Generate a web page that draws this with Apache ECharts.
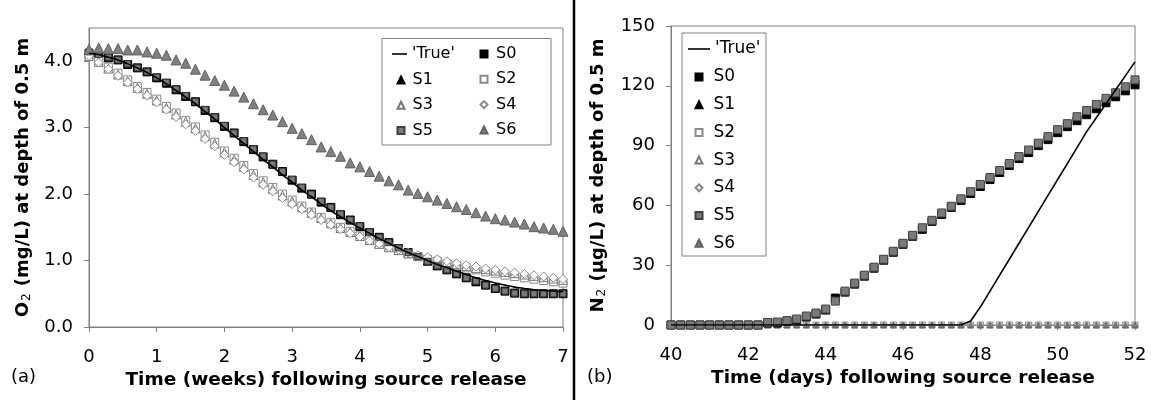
<!DOCTYPE html>
<html>
<head>
<meta charset="utf-8">
<script src="https://cdn.jsdelivr.net/npm/echarts@6/dist/echarts.min.js"></script>
<style>
  html, body { margin: 0; padding: 0; background: #ffffff; }
  #chart { width: 1151px; height: 400px; }
</style>
</head>
<body>
<div id="chart"></div>
<script>
// ---------- Panel (a): dissolved O2 at 0.5 m, sampled once per day ----------
const DAYS_A = [0,1,2,3,4,5,6,7,8,9,10,11,12,13,14,15,16,17,18,19,20,21,22,23,24,
                25,26,27,28,29,30,31,32,33,34,35,36,37,38,39,40,41,42,43,44,45,46,47,48,49];

const TRUE_A = [4.12,4.10,4.06,4.02,3.96,3.90,3.83,3.75,3.66,3.56,3.46,3.36,3.24,3.13,3.00,
                2.88,2.76,2.64,2.52,2.41,2.29,2.18,2.06,1.96,1.85,1.75,1.66,1.57,1.49,1.41,
                1.33,1.26,1.19,1.12,1.06,1.00,0.94,0.89,0.84,0.79,0.74,0.70,0.66,0.63,0.60,
                0.58,0.56,0.55,0.54,0.53];
const S0_A = [4.12,4.09,4.05,4.02,3.95,3.90,3.84,3.75,3.67,3.57,3.47,3.39,3.26,3.15,3.02,
              2.92,2.79,2.67,2.56,2.45,2.34,2.21,2.09,2.00,1.88,1.80,1.69,1.61,1.51,1.42,
              1.35,1.27,1.18,1.12,1.06,0.99,0.92,0.86,0.80,0.74,0.68,0.63,0.58,0.54,0.51,
              0.50,0.50,0.50,0.50,0.50];
const S1_A = [4.12,4.09,4.05,4.01,3.95,3.89,3.83,3.75,3.66,3.57,3.47,3.38,3.26,3.15,3.02,
              2.91,2.79,2.67,2.56,2.44,2.33,2.21,2.09,1.99,1.88,1.79,1.69,1.60,1.51,1.42,
              1.34,1.26,1.18,1.11,1.05,0.99,0.92,0.86,0.80,0.74,0.68,0.63,0.58,0.54,0.51,
              0.50,0.50,0.50,0.50,0.50];
const S2_A = [4.09,4.00,3.91,3.82,3.72,3.62,3.53,3.43,3.32,3.22,3.11,3.01,2.89,2.78,2.65,
              2.54,2.43,2.31,2.20,2.10,2.00,1.91,1.82,1.73,1.65,1.57,1.50,1.44,1.37,1.31,
              1.25,1.20,1.15,1.10,1.06,1.02,0.99,0.95,0.92,0.89,0.86,0.83,0.81,0.78,0.76,
              0.74,0.72,0.70,0.68,0.66];
const S3_A = [4.08,3.99,3.89,3.80,3.70,3.60,3.51,3.41,3.30,3.20,3.09,2.99,2.87,2.76,2.63,
              2.52,2.41,2.29,2.18,2.08,1.98,1.89,1.80,1.72,1.64,1.56,1.49,1.43,1.37,1.31,
              1.25,1.20,1.16,1.11,1.07,1.04,1.01,0.98,0.95,0.92,0.89,0.87,0.85,0.83,0.81,
              0.79,0.77,0.75,0.73,0.71];
const S4_A = [4.08,3.98,3.88,3.78,3.68,3.58,3.48,3.38,3.27,3.16,3.05,2.95,2.83,2.72,2.59,
              2.48,2.37,2.25,2.14,2.04,1.94,1.85,1.77,1.69,1.61,1.54,1.47,1.41,1.36,1.30,
              1.25,1.20,1.16,1.12,1.08,1.05,1.02,0.99,0.96,0.93,0.91,0.88,0.86,0.84,0.82,
              0.80,0.78,0.76,0.74,0.72];
const S5_A = [4.14,4.10,4.06,4.02,3.96,3.90,3.84,3.76,3.68,3.58,3.48,3.39,3.27,3.16,3.03,
              2.92,2.80,2.68,2.57,2.45,2.34,2.22,2.10,2.00,1.89,1.80,1.70,1.61,1.52,1.43,
              1.35,1.27,1.19,1.12,1.06,0.99,0.92,0.86,0.80,0.74,0.69,0.63,0.58,0.54,0.51,
              0.50,0.50,0.50,0.50,0.50];
const S6_A = [4.18,4.20,4.19,4.19,4.17,4.17,4.14,4.12,4.09,4.02,3.97,3.88,3.79,3.71,3.64,
              3.55,3.46,3.36,3.27,3.19,3.09,2.99,2.91,2.82,2.71,2.64,2.57,2.47,2.41,2.34,
              2.27,2.20,2.14,2.06,2.01,1.96,1.91,1.86,1.81,1.77,1.72,1.67,1.63,1.61,1.58,
              1.55,1.51,1.49,1.47,1.44];

const X_TICKS_A = [0,1,2,3,4,5,6,7];
const Y_TICKS_A = [0,1,2,3,4];

// ---------- Panel (b): N2 at 0.5 m, sampled every 6 hours ----------
const TIMES_B = [40,40.25,40.5,40.75,41,41.25,41.5,41.75,42,42.25,42.5,42.75,43,43.25,43.5,43.75,
                 44,44.25,44.5,44.75,45,45.25,45.5,45.75,46,46.25,46.5,46.75,47,47.25,47.5,47.75,
                 48,48.25,48.5,48.75,49,49.25,49.5,49.75,50,50.25,50.5,50.75,51,51.25,51.5,51.75,52];

const TRUE_B = [0,0,0,0,0,0,0,0,0,0,0,0,0,0,0,0,0,0,0,0,0,0,0,0,0,0,0,0,0,0,0,
                2,9,17,25,33,41,49,57,65,73,81,89,97,104,111,118,125,132];
const S0_B = [0,0,0,0,0,0,0,0,0,0,
              1,1,2,2.5,4,5.5,7.5,13.5,16.5,20.5,24.5,28.5,32.5,36.5,40.5,44.5,48,52,55.5,
              59,62.5,66,69.5,73,76.5,80,83.5,86.5,90,93,96.5,99.5,102.5,105.5,108.5,
              111.5,114.5,117.5,120.5];
const S5_B = [0,0,0,0,0,0,0,0,0,0,
              1.3,1.5,2.2,3,4.5,6,8,12,17,21,25,29,33,37,41,45,48.8,52.5,56.2,
              59.6,63.3,66.9,70.5,74,77.5,81,84.5,87.8,91.2,94.5,98,101,104.5,107.6,110.7,
              113.7,116.5,119.5,123];
// S1, S2, S3, S4 and S6 stay at zero over the whole window
const FLAT_B = [0,0,0,0,0,0,0,0,0,0,0,0,0,0,0,0,0,0,0,0,0,0,0,0,0,
                0,0,0,0,0,0,0,0,0,0,0,0,0,0,0,0,0,0,0,0,0,0,0,0];

const X_TICKS_B = [40,42,44,46,48,50,52];
const Y_TICKS_B = [0,30,60,90,120,150];

// legend groupings
const LINE_KEY = ["'True'"];
const KEYS_A_COL1 = ['S1', 'S3', 'S5'];
const KEYS_A_COL2 = ['S0', 'S2', 'S4', 'S6'];
const KEYS_B = ['S0', 'S1', 'S2', 'S3', 'S4', 'S5', 'S6'];
const ICONS = { S0: 'rect', S1: 'triangle', S2: 'rect', S3: 'triangle', S4: 'diamond', S5: 'rect', S6: 'triangle' };

// ---------- styling ----------
const FONT = '"DejaVu Sans", "Liberation Sans", Arial, sans-serif';
const AXIS_GREY = '#808080';

function pairs(xs, ys, scale) {
  return ys.map((y, i) => [xs[i] / scale, y]);
}

function lineSeries(name, data, axis, smooth) {
  return {
    name, type: 'line', data, xAxisIndex: axis, yAxisIndex: axis,
    symbol: 'none', smooth: smooth, z: 5,
    lineStyle: { color: '#000', width: 1.6 },
    itemStyle: { color: '#000' },
    emphasis: { disabled: true }, animation: false
  };
}

function dots(name, data, axis, symbol, size, fill, stroke, z) {
  return {
    name, type: 'scatter', data, xAxisIndex: axis, yAxisIndex: axis,
    symbol, symbolSize: size, z: z || 2,
    itemStyle: { color: fill, borderColor: stroke, borderWidth: 1, opacity: 1 },
    emphasis: { disabled: true }, animation: false
  };
}

function axisName(chem, unit) {
  return '{b|' + chem + '}{s|2}{b| (' + unit + ') at depth of 0.5 m}';
}
const NAME_RICH = {
  b: { fontFamily: FONT, fontSize: 18, fontWeight: 'bold', color: '#000', lineHeight: 20 },
  s: { fontFamily: FONT, fontSize: 12, fontWeight: 'normal', color: '#000', lineHeight: 12, padding: [8, 1, 0, 1] }
};

function xAxis(grid, min, max, interval, ticks, title, gap) {
  return {
    type: 'value', gridIndex: grid, min, max, interval,
    name: title, nameLocation: 'middle', nameGap: gap,
    nameTextStyle: { fontFamily: FONT, fontSize: 18.5, fontWeight: 'bold', color: '#000' },
    axisLine: { show: true, onZero: false, lineStyle: { color: AXIS_GREY, width: 1 } },
    axisTick: { show: true, inside: false, length: 5, customValues: ticks, lineStyle: { color: AXIS_GREY } },
    axisLabel: { fontFamily: FONT, fontSize: 18, color: '#000', margin: 21, customValues: ticks },
    splitLine: { show: false }
  };
}

function yAxis(grid, min, max, interval, ticks, title, gap, fmt) {
  return {
    type: 'value', gridIndex: grid, min, max, interval,
    name: title, nameLocation: 'middle', nameGap: gap,
    nameTextStyle: { rich: NAME_RICH },
    axisLine: { show: true, onZero: false, lineStyle: { color: AXIS_GREY, width: 1 } },
    axisTick: { show: true, inside: false, length: 5, customValues: ticks, lineStyle: { color: AXIS_GREY } },
    axisLabel: {
      fontFamily: FONT, fontSize: 18, color: '#000', margin: 16, customValues: ticks,
      formatter: v => (ticks.indexOf(v) < 0 ? '' : fmt(v))
    },
    splitLine: { show: false }
  };
}

// one column of legend keys; scatter keys use square boxes so the symbols keep their shape
function keyColumn(names, left, top, fontSize, gap, textPad) {
  return {
    data: names.map(n => ({ name: n, icon: ICONS[n] })),
    orient: 'vertical', left, top, padding: 0,
    itemWidth: 7, itemHeight: 7, itemGap: gap,
    textStyle: { fontFamily: FONT, fontSize, color: '#000', padding: [0, 0, 0, textPad] },
    selectedMode: false, z: 6
  };
}
function lineKey(left, top, width, fontSize) {
  return {
    data: [{ name: LINE_KEY[0], icon: 'rect' }],
    orient: 'vertical', left, top, padding: 0,
    itemWidth: width, itemHeight: 1.6,
    textStyle: { fontFamily: FONT, fontSize, color: '#000' },
    selectedMode: false, z: 6
  };
}

const chart = echarts.init(document.getElementById('chart'), null, { renderer: 'canvas' });

const option = {
  backgroundColor: '#ffffff',
  animation: false,
  grid: [
    { left: 89, top: 28, width: 474, height: 299, show: true, borderColor: AXIS_GREY, borderWidth: 1, outerBoundsMode: 'none' },
    { left: 671, top: 26, width: 464, height: 299, show: true, borderColor: AXIS_GREY, borderWidth: 1, outerBoundsMode: 'none' }
  ],
  xAxis: [
    xAxis(0, 0, 7, 1, X_TICKS_A, 'Time (weeks) following source release', 43),
    xAxis(1, 40, 52, 2, X_TICKS_B, 'Time (days) following source release', 44)
  ],
  yAxis: [
    yAxis(0, 0, 4.5, 1, Y_TICKS_A, axisName('O', 'mg/L'), 56, v => v.toFixed(1)),
    yAxis(1, 0, 150, 30, Y_TICKS_B, axisName('N', '\u03bcg/L'), 63, v => String(v))
  ],
  legend: [
    // panel (a): two columns inside one box
    lineKey(392, 46, 15, 16),
    keyColumn(KEYS_A_COL1, 396.5, 72, 16, 9.3, 3),
    keyColumn(KEYS_A_COL2, 479.5, 46, 16, 9.3, 3.5),
    // panel (b): single column
    lineKey(688, 40.5, 22, 17),
    keyColumn(KEYS_B, 694.5, 68.5, 17, 10.7, 6)
  ],
  series: [
    // panel (a)
    dots('S1', pairs(DAYS_A, S1_A, 7), 0, 'triangle', 6, '#000', '#000'),
    dots('S0', pairs(DAYS_A, S0_A, 7), 0, 'rect', 8, '#000', '#000'),
    dots('S2', pairs(DAYS_A, S2_A, 7), 0, 'rect', 8, '#ffffff', '#8a8a8a'),
    dots('S3', pairs(DAYS_A, S3_A, 7), 0, 'triangle', 9, '#ffffff', '#777777'),
    dots('S4', pairs(DAYS_A, S4_A, 7), 0, 'diamond', 9, '#ffffff', '#888888'),
    dots('S5', pairs(DAYS_A, S5_A, 7), 0, 'rect', 6, '#7a7a7a', '#404040'),
    dots('S6', pairs(DAYS_A, S6_A, 7), 0, 'triangle', 10, '#808080', '#606060'),
    lineSeries("'True'", pairs(DAYS_A, TRUE_A, 7), 0, 0.3),
    // panel (b)
    dots('S1', pairs(TIMES_B, FLAT_B, 1), 1, 'triangle', 5, '#000', '#000'),
    dots('S2', pairs(TIMES_B, FLAT_B, 1), 1, 'rect', 6, '#ffffff', '#8a8a8a'),
    dots('S3', pairs(TIMES_B, FLAT_B, 1), 1, 'triangle', 6, '#ffffff', '#888888'),
    dots('S4', pairs(TIMES_B, FLAT_B, 1), 1, 'diamond', 6, '#ffffff', '#8a8a8a'),
    dots('S6', pairs(TIMES_B, FLAT_B, 1), 1, 'triangle', 5, '#7f7f7f', '#666666'),
    dots('S0', pairs(TIMES_B, S0_B, 1), 1, 'rect', 8, '#000', '#000', 3),
    dots('S5', pairs(TIMES_B, S5_B, 1), 1, 'rect', 8, '#7a7a7a', '#444444', 3),
    lineSeries("'True'", pairs(TIMES_B, TRUE_B, 1), 1, false)
  ],
  graphic: [
    // legend frames
    { type: 'rect', z: 5, shape: { x: 382, y: 38.5, width: 169, height: 106.5 },
      style: { fill: '#ffffff', stroke: AXIS_GREY, lineWidth: 1 } },
    { type: 'rect', z: 5, shape: { x: 682, y: 33, width: 84, height: 223 },
      style: { fill: '#ffffff', stroke: AXIS_GREY, lineWidth: 1 } },
    // divider between the two panels
    { type: 'line', shape: { x1: 574, y1: 0, x2: 574, y2: 400 }, style: { stroke: '#000', lineWidth: 2.5 } },
    { type: 'text', left: 11, top: 368, style: { text: '(a)', font: '18px ' + FONT, fill: '#000' } },
    { type: 'text', left: 587, top: 368, style: { text: '(b)', font: '18px ' + FONT, fill: '#000' } }
  ]
};

chart.setOption(option);
</script>
</body>
</html>
